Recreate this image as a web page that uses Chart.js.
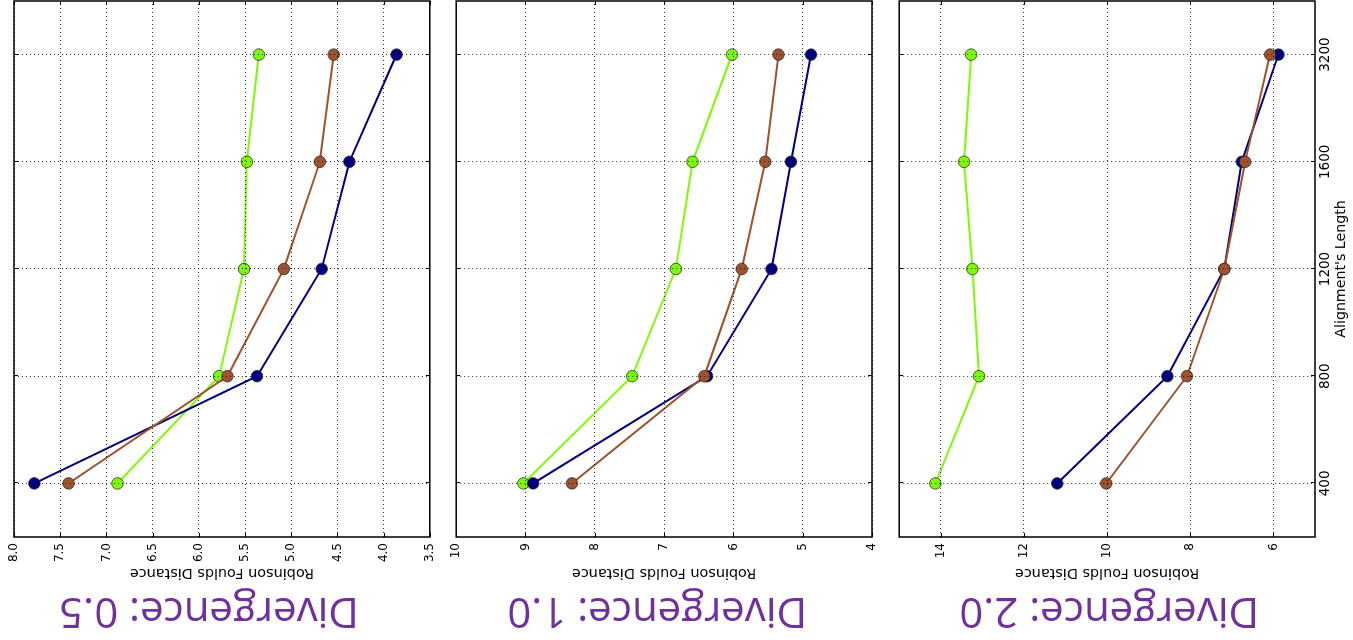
<!DOCTYPE html>
<html>
<head>
<meta charset="utf-8">
<script src="https://cdn.jsdelivr.net/npm/chart.js@4.4.1/dist/chart.umd.min.js"></script>
<style>
  html, body { margin: 0; padding: 0; background: #fff; overflow: hidden; width: 1353px; height: 640px; }
  /* The three stacked panels are laid out upright, then the whole figure is turned a quarter turn. */
  #figure { position: absolute; left: 0; top: 640px; width: 640px; height: 1353px;
            transform-origin: 0 0; transform: rotate(-90deg); }
  #figure canvas { position: absolute; left: 0; }
</style>
</head>
<body>
<div id="figure">
  <canvas id="div05" width="640" height="443" style="top:0px;width:640px;height:443px"></canvas>
  <canvas id="div10" width="640" height="443" style="top:443px;width:640px;height:443px"></canvas>
  <canvas id="div20" width="640" height="467" style="top:886px;width:640px;height:467px"></canvas>
</div>
<script>
// Alignment lengths (category axis)
const alignmentLengths = ['400', '800', '1200', '1600', '3200'];

// Robinson Foulds distance, divergence 0.5
const rf05Navy   = [7.78, 5.37, 4.67, 4.37, 3.86];
const rf05Sienna = [7.41, 5.69, 5.08, 4.69, 4.54];
const rf05Green  = [6.88, 5.78, 5.51, 5.48, 5.35];

// Robinson Foulds distance, divergence 1.0
const rf10Navy   = [8.89, 6.38, 5.45, 5.17, 4.88];
const rf10Sienna = [8.33, 6.42, 5.88, 5.54, 5.35];
const rf10Green  = [9.03, 7.46, 6.83, 6.59, 6.02];

// Robinson Foulds distance, divergence 2.0
const rf20Navy   = [11.20, 8.55, 7.18, 6.76, 5.88];
const rf20Sienna = [10.02, 8.08, 7.18, 6.68, 6.08];
const rf20Green  = [14.13, 13.08, 13.24, 13.44, 13.27];

// Distance axis ranges and ticks
const rfRange05 = [3.5, 8.0];
const rfTicks05 = [3.5, 4.0, 4.5, 5.0, 5.5, 6.0, 6.5, 7.0, 7.5, 8.0];
const rfTickLabels05 = ['3.5', '4.0', '4.5', '5.0', '5.5', '6.0', '6.5', '7.0', '7.5', '8.0'];
const rfRange10 = [4, 10];
const rfTicks10 = [4, 5, 6, 7, 8, 9, 10];
const rfTickLabels10 = ['4', '5', '6', '7', '8', '9', '10'];
const rfRange20 = [5, 15];
const rfTicks20 = [6, 8, 10, 12, 14];
const rfTickLabels20 = ['6', '8', '10', '12', '14'];

const titles = ['Divergence: 0.5', 'Divergence: 1.0', 'Divergence: 2.0'];

Chart.defaults.font.family = 'DejaVu Sans';
Chart.defaults.color = '#000';

const gridColor = 'rgba(0,0,0,0.8)';

// Box around the plot area with short inward tick marks on every side
const framePlugin = {
  id: 'frame',
  afterDraw(chart) {
    const { ctx, chartArea: a, scales } = chart;
    ctx.save();
    ctx.strokeStyle = '#000';
    ctx.lineWidth = 1;
    ctx.beginPath();
    const tl = 4;
    scales.x.ticks.forEach((t, i) => {
      const px = Math.round(scales.x.getPixelForTick(i)) + 0.5;
      ctx.moveTo(px, a.top); ctx.lineTo(px, a.top + tl);
      ctx.moveTo(px, a.bottom); ctx.lineTo(px, a.bottom - tl);
    });
    scales.y.ticks.forEach(t => {
      const py = Math.round(scales.y.getPixelForValue(t.value)) + 0.5;
      ctx.moveTo(a.left, py); ctx.lineTo(a.left + tl, py);
      ctx.moveTo(a.right, py); ctx.lineTo(a.right - tl, py);
    });
    ctx.stroke();
    ctx.lineWidth = 1.5;
    ctx.strokeRect(a.left, a.top, a.right - a.left, a.bottom - a.top);
    ctx.restore();
  }
};

// Slides the side title along the panel by options.plugins.titleShift.px
const titleShiftPlugin = {
  id: 'titleShift',
  afterLayout(chart, args, opts) {
    const t = chart.titleBlock;
    if (t && opts.px) { t.top += opts.px; t.bottom += opts.px; }
  }
};

function series(values, color) {
  return {
    data: values,
    borderColor: color,
    backgroundColor: color,
    borderWidth: 2,
    tension: 0,
    pointRadius: 5.8,
    pointBorderWidth: 1,
    pointBorderColor: 'rgba(40,40,40,0.75)',
    pointBackgroundColor: color
  };
}

function panel(canvasId, title, navy, sienna, green, range, ticks, tickLabels, showLengthAxis, pad, shift) {
  return new Chart(document.getElementById(canvasId), {
    type: 'line',
    data: {
      labels: alignmentLengths,
      datasets: [series(sienna, '#a0522d'), series(navy, '#000080'), series(green, '#7cfc00')]
    },
    options: {
      responsive: false,
      animation: false,
      devicePixelRatio: 1,
      layout: { autoPadding: false, padding: { left: 0, right: 1, top: pad[0], bottom: pad[1] } },
      plugins: {
        legend: { display: false },
        tooltip: { enabled: false },
        titleShift: { px: shift },
        title: {
          display: true,
          text: title,
          position: 'left',
          fullSize: false,
          color: '#7030a0',
          font: { family: 'Open Sans', size: 42, weight: 'normal', lineHeight: 1.2 },
          padding: { top: 5, bottom: 0 }
        }
      },
      scales: {
        x: {
          type: 'category',
          offset: true,
          grid: { color: gridColor, lineWidth: 1, offset: false, drawTicks: false, z: 1 },
          border: { display: false, dash: [1, 3] },
          ticks: { display: showLengthAxis, padding: 2, autoSkip: false, maxRotation: 0,
                   font: { family: 'DejaVu Sans', size: 13.5 } },
          title: { display: showLengthAxis, text: "Alignment's Length",
                   font: { family: 'DejaVu Sans', size: 14.2 }, padding: { top: 0, bottom: 3 } },
          afterFit(scale) { scale.height = showLengthAxis ? 38 : 0; }
        },
        y: {
          type: 'linear',
          min: range[0],
          max: range[1],
          grid: { color: gridColor, lineWidth: 1, drawTicks: false, z: 1 },
          border: { display: false, dash: [1, 3] },
          afterBuildTicks(scale) { scale.ticks = ticks.map(v => ({ value: v })); },
          ticks: { padding: 6, font: { family: 'DejaVu Sans', size: 12 },
                   callback: (v, i) => tickLabels[i] },
          title: { display: true, text: 'Robinson Foulds Distance',
                   font: { family: 'DejaVu Sans', size: 14.4 }, padding: { top: 3, bottom: 0 } },
          afterFit(scale) { scale.width = 103 - 5 - 42 * 1.2; }
        }
      }
    },
    plugins: [framePlugin, titleShiftPlugin]
  });
}

panel('div05', titles[0], rf05Navy, rf05Sienna, rf05Green, rfRange05, rfTicks05, rfTickLabels05, false, [14, 13], -13);
panel('div10', titles[1], rf10Navy, rf10Sienna, rf10Green, rfRange10, rfTicks10, rfTickLabels10, false, [13, 14], -7);
panel('div20', titles[2], rf20Navy, rf20Sienna, rf20Green, rfRange20, rfTicks20, rfTickLabels20, true, [13, 0], 2);
</script>
</body>
</html>
